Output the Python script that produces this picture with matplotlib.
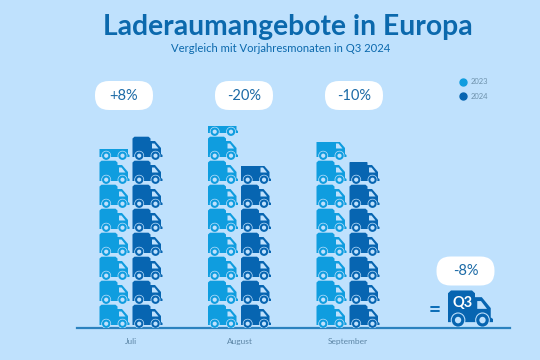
import matplotlib
matplotlib.use("Agg")
import matplotlib.pyplot as plt
from matplotlib.path import Path
from matplotlib.patches import PathPatch, FancyBboxPatch, Rectangle
from matplotlib.lines import Line2D
from matplotlib.transforms import Affine2D

months = ["Juli", "August", "September"]
series_names = ["2023", "2024"]
trucks_2023 = [7.45, 8.42, 7.75]
trucks_2024 = [8.0, 6.75, 6.9]
change_labels = ["+8%", "-20%", "-10%"]
total_label = "-8%"

BG = "#bfe1fd"
C23 = "#0f9ddf"
C24 = "#0765b1"
TITLE = "#0b69ad"
FONT = "Lato"
W, H = 540, 360
CAT_PX, UNIT_PX = 108.5, 24.0

fig = plt.figure(figsize=(W / 100, H / 100), dpi=100, facecolor=BG)
base_y, left, right = 328.0, 77.0, 510.0
ax = fig.add_axes([left / W, (H - base_y) / H, (right - left) / W, base_y / H], facecolor="none")
ax.set_xlim(-(131 - left) / CAT_PX, (right - 131) / CAT_PX)
ax.set_ylim(0, base_y / UNIT_PX)
for s in ("top", "left", "right"):
    ax.spines[s].set_visible(False)
ax.spines["bottom"].set_color("#2b82bf")
ax.spines["bottom"].set_linewidth(1.6)
ax.set_yticks([])
ax.set_xticks(range(len(months)), months, fontsize=6, color="#5d86a6", family=FONT)
ax.tick_params(axis="x", length=0, pad=7)


def silhouette():
    v = [(-15, 3), (-15, 21.5), (-13, 23.3), (1, 23.3), (3, 21.5), (3, 19), (7.5, 19),
         (13.5, 12), (13.5, 6), (15, 5), (15, 3), (-15, 3)]
    return Path(v, [Path.MOVETO] + [Path.LINETO] * (len(v) - 2) + [Path.CLOSEPOLY])


def window():
    v = [(4.5, 16.5), (7, 16.5), (11, 11.5), (4.5, 11.5), (4.5, 16.5)]
    return Path(v, [Path.MOVETO] + [Path.LINETO] * 3 + [Path.CLOSEPOLY])


def draw_truck(axis, xc, yb, frac, color, trans_scale):
    tr = Affine2D().scale(*trans_scale).translate(xc, yb) + axis.transData
    clip = Rectangle((xc - 1, yb), 2, frac, transform=axis.transData)
    items = [(silhouette(), color), (window(), BG)]
    for wx in (-8.3, 8.0):
        items += [(Path.circle((wx, 4.3), 4.9), BG), (Path.circle((wx, 4.3), 4.2), color),
                  (Path.circle((wx, 4.3), 2.1), BG)]
    for p, c in items:
        patch = PathPatch(p, facecolor=c, edgecolor="none", transform=tr, zorder=3)
        axis.add_patch(patch)
        patch.set_clip_path(clip)


scale = (1 / CAT_PX, 1 / UNIT_PX)
offset = 16.5 / CAT_PX
for i in range(len(months)):
    for val, dx, col in ((trucks_2023[i], -offset, C23), (trucks_2024[i], offset, C24)):
        n = 0
        while n < val:
            frac = min(1, val - n)
            draw_truck(ax, i + dx, n, frac, col, scale)
            n += 1

# Q3 summary truck, enlarged
q3_x = (470.5 - 131) / CAT_PX
draw_truck(ax, q3_x, 0.05, 1.6, C24, (1.5 / CAT_PX, 1.56 / UNIT_PX))

ax.legend(handles=[Line2D([], [], ls="", marker="o", ms=5, color=C23),
                   Line2D([], [], ls="", marker="o", ms=5, color=C24)],
          labels=series_names, frameon=False, labelcolor="#6f93ad",
          loc="upper left", bbox_to_anchor=((455 - left) / (right - left), (base_y - 78.5) / base_y),
          handletextpad=0.1, labelspacing=1.0, borderpad=0, borderaxespad=0,
          prop={"family": FONT, "size": 5.5})

# Annotation layer in pixel space
ov = fig.add_axes([0, 0, 1, 1], facecolor="none")
ov.set_xlim(0, W)
ov.set_ylim(H, 0)
ov.axis("off")
ov.text(288, 27, "Laderaumangebote in Europa", ha="center", va="center", fontsize=20.3,
        fontweight="bold", color=TITLE, family=FONT)
ov.text(281, 49, "Vergleich mit Vorjahresmonaten in Q3 2024", ha="center", va="center", fontsize=8.1,
        color=TITLE, family=FONT)


def pill(cx, cy, label):
    w, h = 58, 29
    ov.add_patch(FancyBboxPatch((cx - w / 2 + 14, cy - h / 2 + 14), w - 28, h - 28,
                                boxstyle="round,pad=14,rounding_size=14", fc="white", ec="none"))
    ov.text(cx, cy, label, ha="center", va="center", fontsize=10.5, color="#1b6aa6", family=FONT)


for cx, lab in zip((124, 244, 354), change_labels):
    pill(cx, 95.5, lab)
pill(465.5, 271, total_label)
ov.text(463, 303, "Q3", ha="center", va="center", fontsize=10.5, color="white", fontweight="bold", family=FONT)
ov.text(434.5, 310, "=", ha="center", va="center", fontsize=15, color="#0d6fb8", fontweight="bold", family=FONT)

fig.savefig("out.png", dpi=100, facecolor=BG)
